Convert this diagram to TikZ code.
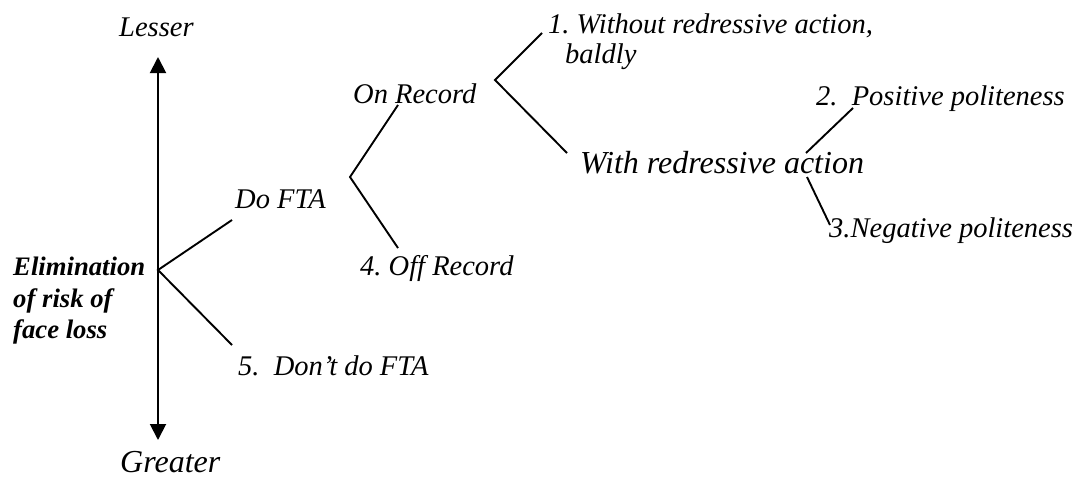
\documentclass[tikz,border=0pt]{standalone}
\usepackage{fontspec}
\setmainfont{Liberation Serif}
\usetikzlibrary{arrows.meta}
\begin{document}
\begin{tikzpicture}[x=1pt,y=-1pt,
  lbl/.style={inner sep=0pt, anchor=base west, font=\fontsize{28.5}{31}\selectfont\itshape},
  biglbl/.style={lbl, font=\fontsize{32}{36}\selectfont\itshape},
  boldlbl/.style={inner sep=0pt, anchor=north west, align=left, font=\fontsize{26.7}{31.5}\selectfont\bfseries\itshape},
  ln/.style={line width=1.9pt},
  axis/.style={line width=1.9pt, {Triangle[length=16pt,width=16pt]}-{Triangle[length=16pt,width=16pt]}}]
\useasboundingbox (0,0) rectangle (1081,479);
% axis
\coordinate (atop) at (158,57);
\coordinate (abot) at (158,440);
\draw[axis] (atop) -- (abot);
\node[lbl] (lesser) at (119,36) {Lesser};
\node[biglbl] (greater) at (120,472) {Greater};
\node[boldlbl] (elim) at (13,257) {Elimination\\of risk of\\face loss};
% root fork
\coordinate (root) at (158,270);
\coordinate (doend) at (232,220);
\coordinate (dontend) at (232,345);
\draw[ln] (doend) -- (root) -- (dontend);
\node[lbl] (dofta) at (235,208) {Do FTA};
\node[lbl] (dont) at (238,375) {5.\ \ Don’t do FTA};
% Do FTA fork
\coordinate (fork1) at (350,177);
\coordinate (onend) at (398,105);
\coordinate (offend) at (398,248);
\draw[ln] (onend) -- (fork1) -- (offend);
\node[lbl] (onrec) at (353,103) {On Record};
\node[lbl] (offrec) at (360,275) {4.\ Off Record};
% On Record fork
\coordinate (fork2) at (495,80);
\coordinate (woend) at (542,33);
\coordinate (wiend) at (567,153);
\draw[ln] (woend) -- (fork2) -- (wiend);
\node[lbl, align=left, anchor=north west] (without) at (548,14) {1.\ Without redressive action,\\[-1pt]\hspace*{17pt}baldly};
\node[biglbl] (withr) at (580,173) {With redressive action};
% With redressive fork
\coordinate (posend) at (853,108);
\coordinate (forkp) at (806,153);
\coordinate (forkn) at (807,177);
\coordinate (negend) at (830,225);
\draw[ln] (forkp) -- (posend);
\draw[ln] (forkn) -- (negend);
\node[lbl] (pos) at (816,105) {2.\ \ Positive politeness};
\node[lbl] (neg) at (829,237) {3.Negative politeness};
\end{tikzpicture}
\end{document}
